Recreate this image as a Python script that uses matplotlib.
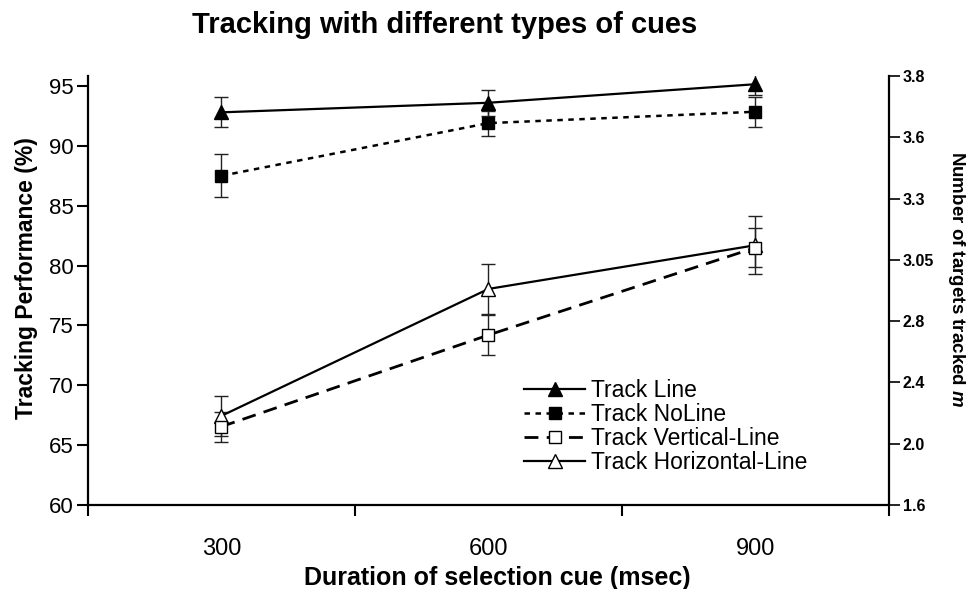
import matplotlib
matplotlib.use("Agg")
import matplotlib.pyplot as plt
import numpy as np

plt.rcParams['font.family'] = ['Liberation Sans', 'DejaVu Sans']
plt.rcParams['mathtext.fontset'] = 'custom'
plt.rcParams['mathtext.it'] = 'Liberation Sans:italic:bold'
plt.rcParams['mathtext.rm'] = 'Liberation Sans:bold'

# ---- data ----
durations = ["300", "600", "900"]
track_line = [92.8, 93.6, 95.15]
track_line_err = [1.25, 1.1, 0.9]
track_noline = [87.5, 91.9, 92.85]
track_noline_err = [1.8, 1.05, 1.25]
track_vertical = [66.55, 74.2, 81.5]
track_vertical_err = [1.25, 1.65, 1.6]
track_horizontal = [67.45, 78.05, 81.7]
track_horizontal_err = [1.65, 2.1, 2.4]

left_ticks = [60, 65, 70, 75, 80, 85, 90, 95]
right_tick_labels = ["1.6", "2.0", "2.4", "2.8", "3.05", "3.3", "3.6", "3.8"]

W, H = 970, 589
fig = plt.figure(figsize=(W / 100, H / 100), dpi=100)
ax = fig.add_axes([88 / W, 1 - 505 / H, (889 - 88) / W, (505 - 76) / H])

x = np.arange(len(durations)) + 0.5

err_kw = dict(ecolor='#222222', elinewidth=1.0, capsize=5, capthick=1.0)

c1 = ax.errorbar(x, track_line, yerr=track_line_err, color='black', lw=1.6,
                 marker='^', ms=10, mfc='black', mec='black', ls='-', **err_kw)
c2 = ax.errorbar(x, track_noline, yerr=track_noline_err, color='black', lw=1.8,
                 marker='s', ms=8, mfc='black', mec='black', ls=(0, (2.2, 2.2)), **err_kw)
c4 = ax.errorbar(x, track_horizontal, yerr=track_horizontal_err, color='black', lw=1.6,
                 marker='^', ms=10, mfc='white', mec='black', mew=1.0, ls='-', **err_kw)
c3 = ax.errorbar(x, track_vertical, yerr=track_vertical_err, color='black', lw=2.0,
                 marker='s', ms=8, mfc='white', mec='black', mew=1.0, ls=(0, (5, 3)), **err_kw)

ax.set_xlim(0, 3)
ax.set_ylim(60, 60 + (505 - 76) / ((505 - 86) / 35))
ax.set_xticks([0, 1, 2, 3])
ax.set_xticklabels([])
ax.set_xticks(x, minor=True)
ax.set_xticklabels(durations, minor=True, fontsize=17)
ax.tick_params(axis='x', which='major', direction='out', length=8, width=1.5)
ax.tick_params(axis='x', which='minor', length=0, pad=24)
ax.set_yticks(left_ticks)
ax.set_yticklabels([str(t) for t in left_ticks], fontsize=16)
ax.tick_params(axis='y', direction='out', length=8, width=1.5, pad=2)

for s in ['top', 'right']:
    ax.spines[s].set_visible(False)
for s in ['left', 'bottom']:
    ax.spines[s].set_linewidth(1.6)

ax.set_ylabel('Tracking Performance (%)', fontsize=16.5, fontweight='bold')
ax.yaxis.set_label_coords(-0.062, 0.53)

ax2 = ax.twinx()
ax2.set_ylim(0, 7)
ax2.set_yticks(np.arange(len(right_tick_labels)))
ax2.set_yticklabels(right_tick_labels, fontsize=11.5, fontweight='bold')
ax2.tick_params(axis='y', direction='out', length=8, width=1.2, pad=2)
for s in ['top', 'left', 'bottom']:
    ax2.spines[s].set_visible(False)
ax2.spines['right'].set_linewidth(1.6)

fig.text(957 / W, 1 - 279 / H, r'Number of targets tracked $m$', rotation=270,
         ha='center', va='center', fontsize=13.5, fontweight='bold')

fig.text(445 / W, 1 - 25 / H, 'Tracking with different types of cues',
         ha='center', va='center', fontsize=21, fontweight='bold')
fig.text(497 / W, 1 - 578 / H, 'Duration of selection cue (msec)',
         ha='center', va='center', fontsize=18, fontweight='bold')

handles = [c1[0], c2[0], c3[0], c4[0]]
labels = ['Track Line', 'Track NoLine', 'Track Vertical-Line', 'Track Horizontal-Line']
leg = ax.legend(handles, labels,
                loc='upper left', bbox_to_anchor=((526 - 88) / 801 - 0.003, (505 - 379) / 429),
                frameon=False, fontsize=16.5, handlelength=2.7, handletextpad=0.25,
                labelspacing=0.05, numpoints=1, borderpad=0, borderaxespad=0)

fig.savefig('out.png', dpi=100)
